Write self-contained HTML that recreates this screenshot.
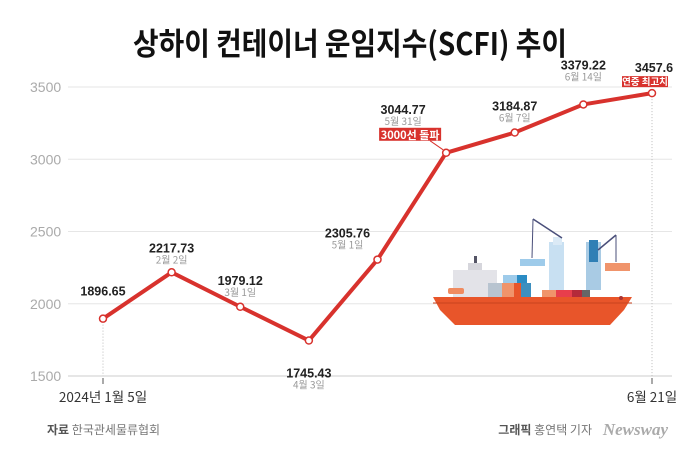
<!DOCTYPE html>
<html><head><meta charset="utf-8"><style>
body{margin:0;background:#fff;}
svg{display:block;font-family:"Liberation Sans","Noto Sans CJK KR",sans-serif;}
</style></head><body>
<svg width="700" height="450" viewBox="0 0 700 450">
<text x="350" y="55" text-anchor="middle" font-size="31" font-weight="700" fill="#111" textLength="434" lengthAdjust="spacingAndGlyphs" font-family="'Noto Sans CJK KR',sans-serif">상하이 컨테이너 운임지수(SCFI) 추이</text>
<g id="grid"></g>
<g id="ship">
  <polygon points="433,297 632,297 624,310 610,325 455,325 440,310" fill="#e8552a"/>
  <line x1="433" y1="303" x2="632" y2="303" stroke="#c9431f" stroke-width="1"/>
  <circle cx="621" cy="298" r="2" fill="#a33"/>
  <rect x="453" y="270" width="44" height="27" fill="#e3e3e8"/>
  <rect x="468" y="263" width="14" height="7" fill="#d6d6dc"/>
  <rect x="474" y="256" width="3" height="7" fill="#556"/>
  <rect x="448" y="288" width="16" height="6" rx="2" fill="#f08b60"/>
  <rect x="488" y="283" width="36" height="14" fill="#b8c4d0"/>
  <rect x="503" y="275" width="18" height="8" fill="#9ecbea"/>
  <rect x="502" y="283" width="12" height="14" fill="#f0946b"/>
  <rect x="514" y="283" width="14" height="14" fill="#e8552a"/>
  <rect x="517" y="275" width="10" height="8" fill="#2b8cc4"/>
  <rect x="521" y="283" width="10" height="14" fill="#3d8fbf"/>
  <rect x="542" y="290" width="14" height="7" fill="#f0946b"/>
  <rect x="556" y="290" width="16" height="7" fill="#e83e4c"/>
  <rect x="572" y="290" width="10" height="7" fill="#b52a3a"/>
  <rect x="582" y="290" width="8" height="7" fill="#666"/>
  <rect x="549" y="242" width="15" height="48" fill="#c8e0f2"/>
  <rect x="553" y="237" width="9" height="8" fill="#dbeaf6"/>
  <line x1="533" y1="219" x2="562" y2="238" stroke="#4a4f7a" stroke-width="1.5"/>
  <line x1="533" y1="219" x2="532" y2="258" stroke="#4a4f7a" stroke-width="1"/>
  <rect x="520" y="259" width="25" height="7" fill="#9ecbea"/>
  <rect x="586" y="242" width="15" height="48" fill="#a9cbe4"/>
  <rect x="589" y="240" width="9" height="22" fill="#2f7fb5"/>
  <line x1="616" y1="235" x2="598" y2="250" stroke="#4a4f7a" stroke-width="1.5"/>
  <line x1="616" y1="235" x2="616" y2="262" stroke="#4a4f7a" stroke-width="1"/>
  <rect x="605" y="263" width="25" height="8" fill="#f0946b"/>
</g>
<g id="marks"></g>
<g id="labels"></g>
<text x="47" y="434" font-size="12" fill="#777" font-family="'Noto Sans CJK KR',sans-serif"><tspan font-weight="700" fill="#555">자료</tspan> 한국관세물류협회</text>
<text x="592" y="434" text-anchor="end" font-size="12" fill="#777" font-family="'Noto Sans CJK KR',sans-serif"><tspan font-weight="700" fill="#555">그래픽</tspan> 홍연택 기자</text>
<text x="668" y="435" text-anchor="end" font-size="17" font-style="italic" font-weight="700" fill="#aaa" font-family="'Liberation Serif',serif">Newsway</text>
</svg>
<script>
const categories = ["2024년 1월 5일","2월 2일","3월 1일","4월 3일","5월 1일","5월 31일","6월 7일","6월 14일","6월 21일"];
const values = [1896.65,2217.73,1979.12,1745.43,2305.76,3044.77,3184.87,3379.22,3457.6];
const valueLabels = ["1896.65","2217.73","1979.12","1745.43","2305.76","3044.77","3184.87","3379.22","3457.6"];
const yTicks = [1500,2000,2500,3000,3500];
const NS="http://www.w3.org/2000/svg";
function x(i){return 103+i*(652-103)/(categories.length-1);}
function y(v){return 376-(v-1500)*(289/2000);}
function mk(tag,attrs,parent,text){const e=document.createElementNS(NS,tag);for(const k in attrs)e.setAttribute(k,attrs[k]);if(text!==undefined)e.textContent=text;parent.appendChild(e);return e;}
const grid=document.getElementById('grid');
yTicks.forEach(t=>{
  const l=mk('line',{x1:68,x2:672,y1:y(t),y2:y(t),stroke:t===1500?'#ccc':'#e6e6e6','stroke-width':1},grid);
  
  
  const tx=mk('text',{x:30,y:y(t)+5,'font-size':14,fill:'#aaa'},grid,String(t));
  
  
});
[0,categories.length-1].forEach(i=>{
  const d=mk('line',{x1:x(i),x2:x(i),y1:y(values[i]),y2:376,stroke:'#bbb','stroke-width':1,'stroke-dasharray':'1,2'},grid);
  
  
  const tk=mk('line',{x1:x(i),x2:x(i),y1:378,y2:384,stroke:'#555','stroke-width':1},grid);
  
  
  const xl=mk('text',{x:x(i),y:402,'font-size':13.5,fill:'#333','text-anchor':'middle','font-family':"'Noto Sans CJK KR',sans-serif"},grid,categories[i]);
  
  
});
const marks=document.getElementById('marks');
const line=mk('polyline',{points:values.map((v,i)=>x(i)+','+y(v)).join(' '),fill:'none',stroke:'#d8322d','stroke-width':4,'stroke-linejoin':'round'},marks);


values.forEach((v,i)=>{
  const c=mk('circle',{cx:x(i),cy:y(v),r:3.5,fill:'#fff',stroke:'#d8322d','stroke-width':1.5},marks);
  
  
});
const offs=[[0,-23],[0,-20],[0,-22],[0,37],[-30,-22],[-43,-39],[0,-22],[0,-35],[2,-21]];
const lab=document.getElementById('labels');
values.forEach((v,i)=>{
  const lx=x(i)+offs[i][0], ly=y(v)+offs[i][1];
  const t=mk('text',{x:lx,y:ly,'font-size':12.5,'font-weight':700,fill:'#222','text-anchor':'middle'},lab,valueLabels[i]);
  
  
  if(i>0&&i<categories.length-1){
    const d=mk('text',{x:lx,y:ly+11,'font-size':10,fill:'#999','text-anchor':'middle','font-family':"'Noto Sans CJK KR',sans-serif"},lab,categories[i]);
    
    
  }
});
const b1x=x(5)-36,b1y=y(values[5])-24;
const bl=mk('line',{x1:b1x+20,y1:b1y+12,x2:x(5)-3,y2:y(values[5])-3,stroke:'#d8322d','stroke-width':1},lab);


const r1=mk('rect',{x:b1x-31,y:b1y-1,width:62,height:13,fill:'#d8322d'},lab);


const t1=mk('text',{x:b1x,y:b1y+10,'font-size':11,'font-weight':700,fill:'#fff','text-anchor':'middle','font-family':"'Noto Sans CJK KR',sans-serif"},lab,'3000선 돌파');


const b2x=x(8)-7,b2y=y(values[8])-17;
const r2=mk('rect',{x:b2x-23,y:b2y,width:46,height:11,fill:'#d8322d'},lab);


const t2=mk('text',{x:b2x,y:b2y+9,'font-size':9.5,'font-weight':700,fill:'#fff','text-anchor':'middle','font-family':"'Noto Sans CJK KR',sans-serif"},lab,'연중 최고치');


</script>
</body></html>
